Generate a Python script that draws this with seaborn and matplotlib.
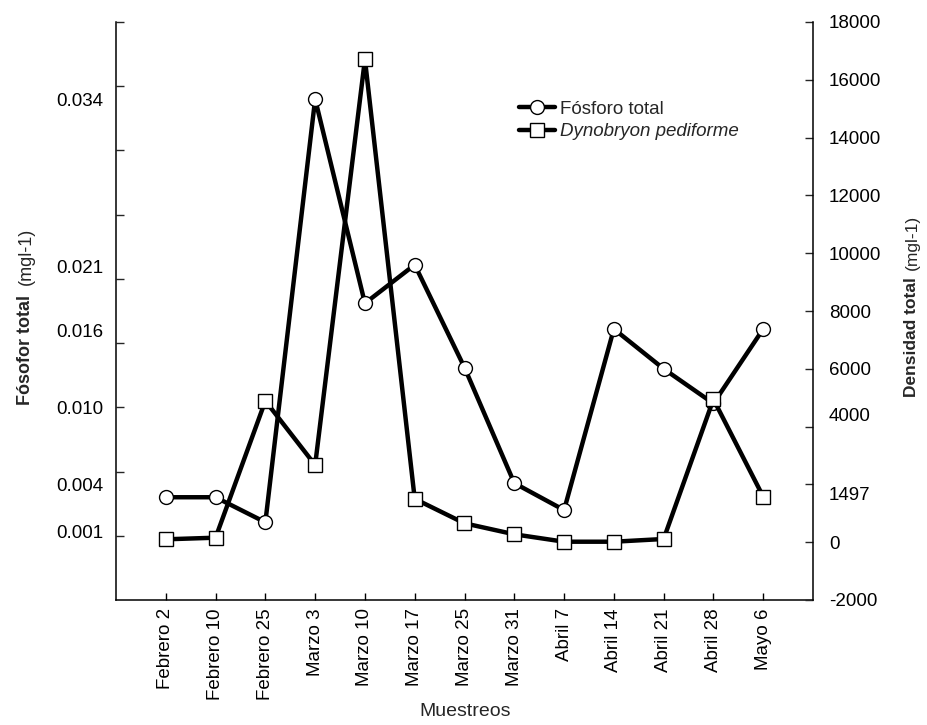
import matplotlib
matplotlib.use("Agg")
import matplotlib.pyplot as plt
import matplotlib.transforms as mtransforms
from matplotlib.lines import Line2D
import seaborn as sns
import numpy as np

# ---- data ----
muestreos = ["Febrero 2", "Febrero 10", "Febrero 25", "Marzo 3", "Marzo 10",
             "Marzo 17", "Marzo 25", "Marzo 31", "Abril 7", "Abril 14",
             "Abril 21", "Abril 28", "Mayo 6"]
fosforo = [0.0030, 0.0030, 0.00105, 0.0340, 0.0181, 0.0211, 0.0131,
           0.0041, 0.0020, 0.0161, 0.0130, 0.0103, 0.0161]
dynobryon = [100, 156, 4890, 2670, 16710, 1500, 654, 273, 17, 17, 111,
             4945, 1574]
left_tick_labels = [0.001, 0.004, 0.010, 0.016, 0.021, 0.034]
right_tick_labels = [18000, 16000, 14000, 12000, 10000, 8000, 6000, 4000,
                     1497, 0, -2000]

sns.set_style("ticks")
plt.rcParams["font.family"] = ["Liberation Sans", "DejaVu Sans"]
NARROW = ["Liberation Sans Narrow", "Liberation Sans", "DejaVu Sans"]
FS = 13.5

W, H = 927, 725
fig = plt.figure(figsize=(W / 100, H / 100), dpi=100)
x0, x1, y0, y1 = 116, 813, 22, 600
ax = fig.add_axes([x0 / W, 1 - y1 / H, (x1 - x0) / W, (y1 - y0) / H])
ax2 = ax.twinx()

pos = np.arange(len(muestreos))
common = dict(color="black", linewidth=3.2, markersize=10,
              markerfacecolor="white", markeredgecolor="black",
              markeredgewidth=1.0)
sns.lineplot(x=pos, y=fosforo, ax=ax, marker="o", legend=False, **common)
sns.lineplot(x=pos, y=dynobryon, ax=ax2, marker="s", legend=False, **common)

ax.set_xlim(-1, 13)
ax.set_ylim(-0.005, 0.040)
ax2.set_ylim(-2000, 18000)

# x axis
ax.set_xticks(pos)
ax.set_xticklabels(muestreos, rotation=90, fontsize=FS)
ax.tick_params(axis="x", direction="in", length=5, width=1, pad=6,
               colors="black")

# left y axis: tick marks every 0.005, labels at selected values
ax.yaxis.remove_overlapping_locs = False
ax.set_yticks(np.arange(0, 0.0401, 0.005))
ax.set_yticklabels([])
ax.set_yticks(left_tick_labels, minor=True)
ax.set_yticklabels([f"{v:.3f}" for v in left_tick_labels], minor=True,
                   fontsize=FS)
ax.tick_params(axis="y", which="major", direction="in", length=6, width=1)
ax.tick_params(axis="y", which="minor", length=0, pad=9, colors="black")

# right y axis
ax2.yaxis.remove_overlapping_locs = False
ax2.set_yticks(np.arange(-2000, 18001, 2000))
ax2.set_yticklabels([])
ax2.set_yticks(right_tick_labels, minor=True)
ax2.set_yticklabels([str(v) for v in right_tick_labels], minor=True,
                    fontsize=FS)
ax2.tick_params(axis="y", which="major", direction="in", length=6, width=1)
ax2.tick_params(axis="y", which="minor", length=0, pad=11.5, colors="black")


def shift(label, dy_in):
    label.set_transform(label.get_transform() +
                        mtransforms.ScaledTranslation(0, dy_in, fig.dpi_scale_trans))


for lab in ax2.yaxis.get_minorticklabels():
    if lab.get_text() == "4000":
        shift(lab, 0.12)
    elif lab.get_text() == "1497":
        shift(lab, 0.05)
for lab in ax.yaxis.get_minorticklabels():
    if lab.get_text() == "0.001":
        shift(lab, -0.09)

for a in (ax, ax2):
    a.spines["top"].set_visible(False)
    for s in ("left", "right", "bottom"):
        a.spines[s].set_linewidth(1.1)
        a.spines[s].set_color("black")
    a.set_xlabel("")
    a.set_ylabel("")
ax.spines["right"].set_visible(False)
ax2.spines["left"].set_visible(False)
ax2.spines["bottom"].set_visible(False)

# axis titles
fig.text(26 / W, 1 - 350 / H, "Fósofor total", rotation=90, ha="center",
         va="center", fontsize=13, fontweight="bold", family=NARROW)
fig.text(26 / W, 1 - 256 / H, "(mgl-1)", rotation=90, ha="center",
         va="center", fontsize=13, family=NARROW)
fig.text(912 / W, 1 - 337 / H, "Densidad total", rotation=90, ha="center",
         va="center", fontsize=12.5, fontweight="bold", family=NARROW)
fig.text(912 / W, 1 - 242 / H, "(mgl-1)", rotation=90, ha="center",
         va="center", fontsize=12.5, family=NARROW)
fig.text(465 / W, 1 - 712 / H, "Muestreos", ha="center", va="center",
         fontsize=14, family=NARROW)

# legend
h1 = Line2D([], [], marker="o", **common)
h2 = Line2D([], [], marker="s", **common)
leg = fig.legend([h1, h2], ["Fósforo total", "Dynobryon pediforme"],
                 loc="upper left", bbox_to_anchor=(510 / W, 1 - 91 / H),
                 frameon=False, fontsize=FS, handlelength=1.9,
                 handletextpad=0.25, labelspacing=0.3, borderpad=0)
leg.get_texts()[1].set_fontstyle("italic")

fig.savefig("out.png", dpi=100, facecolor="white")
